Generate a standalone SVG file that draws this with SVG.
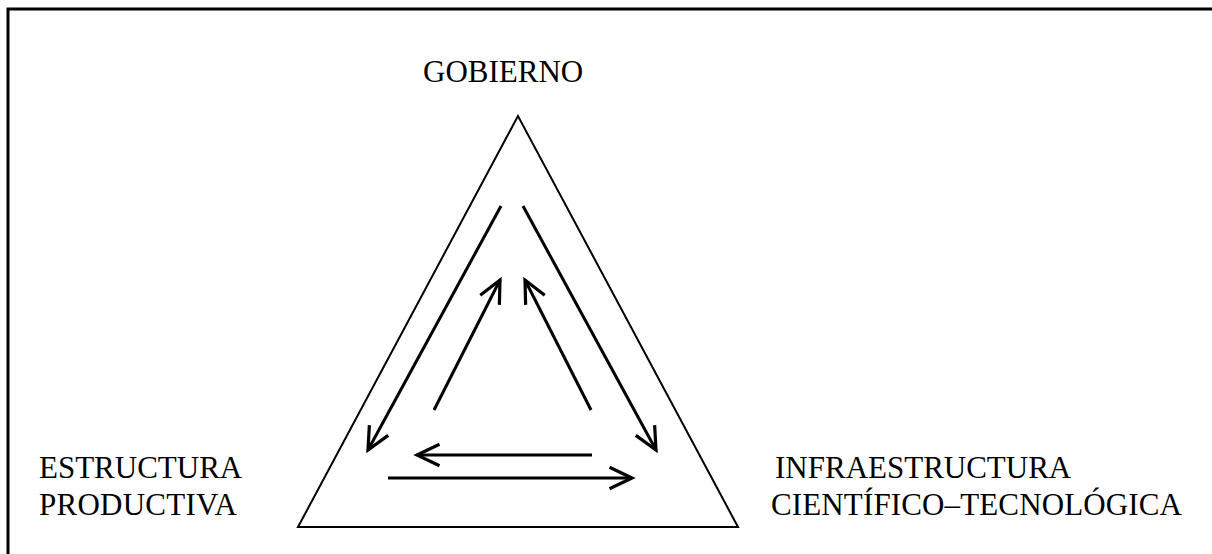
<svg xmlns="http://www.w3.org/2000/svg" width="1212" height="554" viewBox="0 0 1212 554">
<style>
.lbl{font-family:"Liberation Serif","Times New Roman",serif;font-size:31px;fill:#000}
.arr{stroke:#000;stroke-width:3;fill:none;marker-end:url(#head)}
</style>
<defs>
<marker id="head" markerUnits="userSpaceOnUse" orient="auto" markerWidth="30" markerHeight="30" refX="0" refY="0" viewBox="-25 -13 28 26" overflow="visible">
<path d="M-21,-10 L0,0 L-21,10" fill="none" stroke="#000" stroke-width="3" stroke-linejoin="miter"/>
</marker>
</defs>
<rect width="1212" height="554" fill="#fff"/>
<path d="M8,554 V9 H1212" fill="none" stroke="#000" stroke-width="3"/>
<g id="triangle">
<polygon points="518,116 298,527 738,527" fill="none" stroke="#000" stroke-width="2"/>
</g>
<g id="gobierno"><text class="lbl" x="423" y="82">GOBIERNO</text></g>
<g id="estructura"><text class="lbl" x="39" y="478">ESTRUCTURA</text><text class="lbl" x="39" y="515" textLength="198" lengthAdjust="spacing">PRODUCTIVA</text></g>
<g id="infraestructura"><text class="lbl" x="775" y="478">INFRAESTRUCTURA</text><text class="lbl" x="771" y="515" textLength="411" lengthAdjust="spacing">CIENTÍFICO–TECNOLÓGICA</text></g>
<g id="connectors">
<line class="arr" x1="501" y1="206" x2="368" y2="450"/>
<line class="arr" x1="523" y1="206" x2="656" y2="450"/>
<line class="arr" x1="434" y1="410" x2="500" y2="280"/>
<line class="arr" x1="591" y1="410" x2="525" y2="280"/>
<line class="arr" x1="592" y1="455" x2="417" y2="455"/>
<line class="arr" x1="388" y1="478" x2="632" y2="478"/>
</g>
</svg>
